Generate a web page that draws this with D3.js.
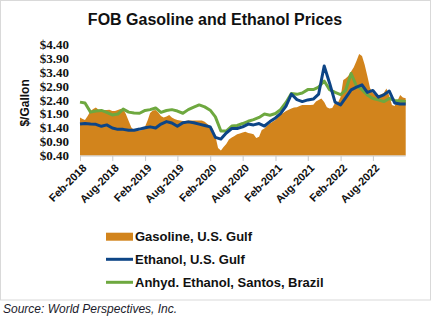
<!DOCTYPE html>
<html>
<head>
<meta charset="utf-8">
<script src="https://cdn.jsdelivr.net/npm/d3@7/dist/d3.min.js"></script>
<style>
  html, body { margin: 0; padding: 0; background: #fff; }
  svg { display: block; }
</style>
</head>
<body>
<svg id="chart" width="432" height="321"></svg>
<script>
// ---- Data ----
const title = "FOB Gasoline and Ethanol Prices";
const yAxisTitle = "$/Gallon";
const sourceText = "Source: World Perspectives, Inc.";
const seriesNames = ["Gasoline, U.S. Gulf", "Ethanol, U.S. Gulf", "Anhyd. Ethanol, Santos, Brazil"];
const yTicks = [0.40, 0.90, 1.40, 1.90, 2.40, 2.90, 3.40, 3.90, 4.40];
const xTickLabels = ["Feb-2018", "Aug-2018", "Feb-2019", "Aug-2019", "Feb-2020", "Aug-2020", "Feb-2021", "Aug-2021", "Feb-2022", "Aug-2022"];

// Gasoline, semi-monthly (1st and 16th), Feb-2018 .. Feb-2023
const gasoline = [
  1.77, 1.71, 1.68, 1.82, 2.00, 2.07, 2.13, 2.05, 2.04, 2.04,
  2.04, 2.05, 2.00, 2.00, 2.04, 2.07, 2.07, 1.89, 1.64, 1.41,
  1.32, 1.30, 1.30, 1.32, 1.44, 1.68, 1.93, 2.02, 2.04, 1.95,
  1.82, 1.77, 1.80, 1.86, 1.77, 1.71, 1.68, 1.66, 1.64, 1.64,
  1.66, 1.66, 1.66, 1.66, 1.66, 1.66, 1.61, 1.53, 1.46, 1.35,
  1.10, 0.67, 0.58, 0.71, 0.81, 0.98, 1.05, 1.10, 1.16, 1.19,
  1.23, 1.25, 1.21, 1.19, 1.16, 1.03, 1.07, 1.32, 1.37, 1.48,
  1.55, 1.61, 1.68, 1.79, 1.88, 1.93, 2.00, 2.05, 2.09, 2.13,
  2.14, 2.18, 2.22, 2.22, 2.22, 2.22, 2.23, 2.34, 2.40, 2.45,
  2.32, 2.14, 2.09, 2.11, 2.29, 2.29, 2.50, 3.12, 3.17, 3.26,
  3.42, 3.57, 3.80, 4.05, 3.98, 3.66, 3.26, 2.83, 2.65, 2.58,
  2.58, 2.59, 2.65, 2.81, 2.54, 2.22, 2.18, 2.36, 2.58, 2.49,
  2.46
];

// Ethanol U.S. Gulf, monthly, Feb-2018 .. Feb-2023
const ethanolUS = [
  1.53, 1.55, 1.53, 1.52, 1.45, 1.50, 1.39, 1.34, 1.34, 1.31,
  1.31, 1.35, 1.40, 1.43, 1.39, 1.53, 1.62, 1.57, 1.45, 1.58,
  1.61, 1.58, 1.53, 1.48, 1.43, 1.05, 0.99, 1.21, 1.37, 1.37,
  1.43, 1.53, 1.50, 1.55, 1.46, 1.62, 1.75, 1.91, 2.18, 2.61,
  2.41, 2.34, 2.40, 2.43, 2.61, 3.62, 3.01, 2.32, 2.22, 2.47,
  2.76, 2.86, 2.94, 2.67, 2.74, 2.50, 2.58, 2.72, 2.29, 2.25,
  2.25
];

// Anhydrous ethanol Santos Brazil, monthly, Feb-2018 .. Feb-2023
const ethanolBR = [
  2.32, 2.29, 1.96, 2.00, 2.02, 1.95, 1.86, 1.89, 2.07, 1.96,
  1.93, 1.92, 2.02, 2.05, 2.11, 1.95, 2.02, 2.05, 2.00, 1.92,
  2.05, 2.14, 2.22, 2.15, 2.03, 1.79, 1.28, 1.28, 1.46, 1.48,
  1.55, 1.63, 1.69, 1.77, 1.89, 1.85, 1.91, 2.05, 2.31, 2.63,
  2.60, 2.65, 2.77, 2.77, 2.86, 3.08, 2.77, 2.67, 2.59, 2.74,
  3.35, 2.90, 2.77, 2.58, 2.45, 2.40, 2.34, 2.45, 2.38, 2.36,
  2.34
];

// ---- Dates ----
const start = new Date(2018, 1, 1);
const end = new Date(2023, 1, 1);
const gasDates = gasoline.map((_, i) => new Date(2018, 1 + Math.floor(i / 2), i % 2 ? 16 : 1));
const monthDates = ethanolUS.map((_, i) => new Date(2018, 1 + i, 1));
const tickDates = xTickLabels.map((_, i) => new Date(2018, 1 + 6 * i, 1));

// ---- Layout ----
const svg = d3.select("#chart");
const plot = { left: 80, right: 405.7, top: 44.3, bottom: 155.5 };

const x = d3.scaleTime().domain([start, end]).range([plot.left, plot.right]);
const y = d3.scaleLinear().domain([0.4, 4.4]).range([plot.bottom, plot.top]);

// frame
svg.append("rect")
  .attr("x", 0.5).attr("y", 0.5).attr("width", 430).attr("height", 299.5)
  .attr("fill", "#fff").attr("stroke", "#d9d9d9").attr("stroke-width", 1);

// title
svg.append("text")
  .attr("x", 215).attr("y", 25)
  .attr("text-anchor", "middle")
  .attr("font-family", "Liberation Sans, Arial, sans-serif")
  .attr("font-weight", "bold").attr("font-size", 16)
  .attr("fill", "#111")
  .text(title);

// gasoline area
const area = d3.area()
  .x((d, i) => x(gasDates[i]))
  .y0(y(0.4))
  .y1(d => y(d));
svg.append("path")
  .datum(gasoline)
  .attr("d", area)
  .attr("fill", "#D2841C");

// lines
const lineM = d3.line().x((d, i) => x(monthDates[i])).y(d => y(d));
svg.append("path").datum(ethanolBR).attr("d", lineM)
  .attr("fill", "none").attr("stroke", "#6EA83F").attr("stroke-width", 3)
  .attr("stroke-linejoin", "round");
svg.append("path").datum(ethanolUS).attr("d", lineM)
  .attr("fill", "none").attr("stroke", "#0D4586").attr("stroke-width", 3)
  .attr("stroke-linejoin", "round");

// x axis
const xAxis = d3.axisBottom(x)
  .tickValues(tickDates)
  .tickSize(5)
  .tickFormat((d, i) => xTickLabels[i]);
const gx = svg.append("g")
  .attr("transform", `translate(0,${plot.bottom + 0.5})`)
  .call(xAxis);
gx.select(".domain").attr("stroke", "#c8c8c8").attr("d", `M${plot.left},0H${plot.right}`);
gx.selectAll(".tick line").attr("stroke", "#c8c8c8");
gx.selectAll(".tick text")
  .attr("font-family", "Liberation Sans, Arial, sans-serif")
  .attr("font-weight", "bold").attr("font-size", 11)
  .attr("fill", "#111")
  .attr("text-anchor", "end")
  .attr("transform", "translate(4,10) rotate(-45)")
  .attr("x", 0).attr("y", 0).attr("dy", "0.35em");

// y axis (labels only)
const yAxis = d3.axisLeft(y)
  .tickValues(yTicks)
  .tickSize(0)
  .tickPadding(0)
  .tickFormat(d => "$" + d3.format(".2f")(d));
const gy = svg.append("g")
  .attr("transform", `translate(69,0)`)
  .call(yAxis);
gy.select(".domain").remove();
gy.selectAll(".tick text")
  .attr("font-family", "Liberation Serif, Times New Roman, serif")
  .attr("font-weight", "bold").attr("font-size", 13)
  .attr("fill", "#111");

// y axis title
svg.append("text")
  .attr("transform", `translate(29,${(plot.top + plot.bottom) / 2 + 3}) rotate(-90)`)
  .attr("text-anchor", "middle")
  .attr("font-family", "Liberation Sans, Arial, sans-serif")
  .attr("font-weight", "bold").attr("font-size", 12)
  .attr("fill", "#111")
  .text(yAxisTitle);

// legend
const legendY = [236.7, 259.3, 282.3];
const lg = svg.append("g");
lg.append("rect").attr("x", 106).attr("y", legendY[0] - 4).attr("width", 27).attr("height", 8)
  .attr("fill", "#D2841C");
lg.append("line").attr("x1", 106).attr("x2", 133).attr("y1", legendY[1]).attr("y2", legendY[1])
  .attr("stroke", "#0D4586").attr("stroke-width", 3);
lg.append("line").attr("x1", 106).attr("x2", 133).attr("y1", legendY[2]).attr("y2", legendY[2])
  .attr("stroke", "#6EA83F").attr("stroke-width", 3);
seriesNames.forEach((n, i) => {
  lg.append("text")
    .attr("x", 135).attr("y", legendY[i]).attr("dy", "0.36em")
    .attr("font-family", "Liberation Sans, Arial, sans-serif")
    .attr("font-weight", "bold").attr("font-size", 13)
    .attr("fill", "#111")
    .text(n);
});

// source
svg.append("text")
  .attr("x", 3).attr("y", 313)
  .attr("font-family", "Liberation Sans, Arial, sans-serif")
  .attr("font-style", "italic").attr("font-size", 12)
  .attr("fill", "#1b1b2b")
  .text(sourceText);
</script>
</body>
</html>
